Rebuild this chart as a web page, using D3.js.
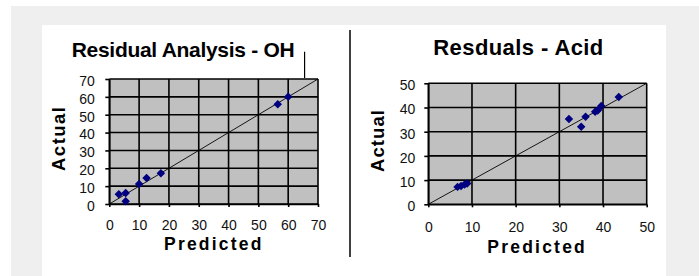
<!DOCTYPE html>
<html>
<head>
<meta charset="utf-8">
<script src="https://cdn.jsdelivr.net/npm/d3@7/dist/d3.min.js"></script>
<style>
  body { margin: 0; background: #fff; }
  svg { display: block; font-family: Arial, "Liberation Sans", sans-serif; }
  .axis text { font-size: 14px; fill: #111; }
  .axis path, .axis line { stroke: #000; stroke-width: 1.6; }
  .grid line { stroke: #000; stroke-width: 1.6; }
  .title, .label { font-weight: bold; fill: #000; }
</style>
</head>
<body>
<script>
// Residual Analysis - OH
const ohTicks = [0, 10, 20, 30, 40, 50, 60, 70];
const ohPredicted = [3.2, 5.5, 5.5, 10, 12.5, 17.3, 56.5, 60];
const ohActual = [5.5, 6.2, 1.5, 11.2, 14.6, 17.2, 55.8, 60];

// Resduals - Acid
const acidTicks = [0, 10, 20, 30, 40, 50];
const acidPredicted = [6.7, 7.5, 8.3, 8.9, 32.2, 35, 36, 38.2, 38.8, 39.6, 43.6];
const acidActual = [7.2, 7.6, 8.2, 8.6, 35.2, 32, 36.2, 38.2, 38.8, 40.6, 44.3];

const width = 699;
const height = 276;

const svg = d3.select('body')
  .append('svg')
  .attr('width', width)
  .attr('height', height);

// page background and white panel
svg.append('rect').attr('x', 11).attr('y', 6)
  .attr('width', width - 11).attr('height', height - 6)
  .attr('fill', '#efefef');
svg.append('rect').attr('x', 42).attr('y', 25)
  .attr('width', 624).attr('height', height - 25)
  .attr('fill', '#fff');

// divider between the two charts
svg.append('line')
  .attr('x1', 350).attr('x2', 350)
  .attr('y1', 30).attr('y2', 257)
  .attr('stroke', '#000').attr('stroke-width', 1.5);

makeScatter({
  left: 109.3, top: 79, right: 318, bottom: 204,
  ticks: ohTicks, xs: ohPredicted, ys: ohActual,
  title: 'Residual Analysis - OH', titleX: 71.7, titleY: 56.7, titleLen: 223, titleSize: 21,
  xLabelX: 164, xLabelY: 250, yLabelX: 64.5, yLabelY: 139, yLabelLen: 64,
  xPad: 13, yPad: 10.5,
  leader: 65.5
});

makeScatter({
  left: 428.3, top: 83.3, right: 646.7, bottom: 204.3,
  ticks: acidTicks, xs: acidPredicted, ys: acidActual,
  title: 'Resduals - Acid', titleX: 433.3, titleY: 55, titleLen: 170, titleSize: 22,
  xLabelX: 487.3, xLabelY: 252.7, yLabelX: 383.5, yLabelY: 141, yLabelLen: 62,
  xPad: 14.5, yPad: 9
});

function makeScatter(c) {
  const max = d3.max(c.ticks);

  const x = d3.scaleLinear().domain([0, max]).range([c.left, c.right]);
  const y = d3.scaleLinear().domain([0, max]).range([c.bottom, c.top]);

  const g = svg.append('g');

  // plot area
  g.append('rect')
    .attr('x', c.left).attr('y', c.top)
    .attr('width', c.right - c.left).attr('height', c.bottom - c.top)
    .attr('fill', '#c0c0c0');

  // gridlines
  const grid = g.append('g').attr('class', 'grid');
  grid.selectAll('line.v')
    .data(c.ticks)
    .enter()
    .append('line')
    .attr('class', 'v')
    .attr('x1', d => x(d)).attr('x2', d => x(d))
    .attr('y1', c.top).attr('y2', c.bottom);
  grid.selectAll('line.h')
    .data(c.ticks)
    .enter()
    .append('line')
    .attr('class', 'h')
    .attr('x1', c.left).attr('x2', c.right)
    .attr('y1', d => y(d)).attr('y2', d => y(d));

  // y = x reference line
  g.append('line')
    .attr('x1', x(0)).attr('y1', y(0))
    .attr('x2', x(max)).attr('y2', y(max))
    .attr('stroke', '#000').attr('stroke-width', 0.9);

  const xAxis = d3.axisBottom(x).tickValues(c.ticks).tickSize(3).tickSizeOuter(0).tickPadding(c.xPad);
  const yAxis = d3.axisLeft(y).tickValues(c.ticks).tickSize(4).tickSizeOuter(0).tickPadding(c.yPad);

  g.append('g')
    .attr('class', 'x axis')
    .attr('transform', `translate(0, ${c.bottom})`)
    .call(xAxis)
    .call(a => a.selectAll('text').attr('font-family', null).attr('font-size', null));

  g.append('g')
    .attr('class', 'y axis')
    .attr('transform', `translate(${c.left}, 0)`)
    .call(yAxis)
    .call(a => a.selectAll('text').attr('font-family', null).attr('font-size', null).attr('dy', '0.45em'));

  // points
  const points = c.xs.map((d, i) => ({ px: d, py: c.ys[i] }));
  g.selectAll('path.point')
    .data(points)
    .enter()
    .append('path')
    .attr('class', 'point')
    .attr('d', d3.symbol(d3.symbolSquare, 36))
    .attr('transform', d => `translate(${x(d.px)}, ${y(d.py)}) rotate(45)`)
    .attr('fill', '#000080');

  // titles
  g.append('text')
    .attr('class', 'title')
    .attr('x', c.titleX).attr('y', c.titleY)
    .attr('font-size', c.titleSize)
    .attr('textLength', c.titleLen)
    .attr('lengthAdjust', 'spacing')
    .text(c.title);

  g.append('text')
    .attr('class', 'label')
    .attr('x', c.xLabelX).attr('y', c.xLabelY)
    .attr('font-size', 17.5)
    .attr('textLength', 97.5)
    .attr('lengthAdjust', 'spacing')
    .text('Predicted');

  g.append('text')
    .attr('class', 'label')
    .attr('transform', `translate(${c.yLabelX}, ${c.yLabelY}) rotate(-90)`)
    .attr('text-anchor', 'middle')
    .attr('font-size', 18.5)
    .attr('textLength', c.yLabelLen)
    .attr('lengthAdjust', 'spacing')
    .text('Actual');

  if (c.leader !== undefined) {
    g.append('line')
      .attr('x1', x(c.leader)).attr('x2', x(c.leader))
      .attr('y1', c.titleY - 5).attr('y2', c.top - 1)
      .attr('stroke', '#000').attr('stroke-width', 1.2);
  }
}
</script>
</body>
</html>
